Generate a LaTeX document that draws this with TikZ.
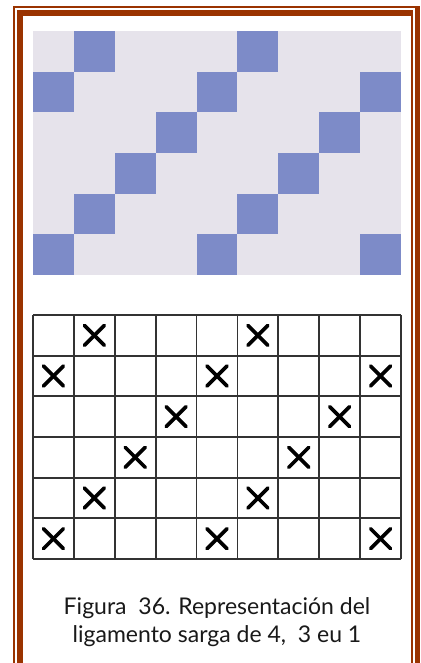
\documentclass[tikz,border=0pt]{standalone}
\usepackage{fontspec}
\setmainfont{Lato}
\usepackage{xcolor}
\definecolor{rimBrown}{HTML}{9A3300}
\definecolor{weaveBg}{HTML}{E6E3EB}
\definecolor{weaveBlue}{HTML}{7D8BC8}

\begin{document}
\begin{tikzpicture}[x=1pt,y=-1pt,
  rim/.style={fill=rimBrown},
  cell/.style={fill=weaveBlue},
  gridline/.style={draw=black!80,line width=1.8pt},
  xmark/.style={draw=black,line width=3.7pt,line cap=round},
  caption/.style={align=center,font=\fontsize{23}{28}\selectfont,text=black!90,inner sep=0pt}]
\useasboundingbox (0,0) rectangle (420,663);
\fill[white] (0,0) rectangle (420,663);
\fill[rim] (13,6) rectangle (420,8);
\fill[rim] (13,6) rectangle (15,663);
\fill[rim] (415,6) rectangle (420,663);
\fill[rim] (17,10) rectangle (413,16);
\fill[rim] (17,10) rectangle (23,663);
\fill[rim] (411,10) rectangle (413,663);
\fill[weaveBg] (33,31) rectangle (401,275);
\foreach \c/\r in {1/0,5/0,0/1,4/1,8/1,3/2,7/2,2/3,6/3,1/4,5/4,0/5,4/5,8/5}{
  \fill[cell] (33+40.89*\c,31+40.67*\r) rectangle +(40.89,40.67);
  \coordinate (x\c\r) at (33+40.89*\c+20.44,315+40.67*\r+20.33);
  \draw[xmark] (x\c\r) ++(-10,-10) -- ++(20,20);
  \draw[xmark] (x\c\r) ++(-10,10) -- ++(20,-20);
}
\foreach \i in {0,...,9}{\draw[gridline] (33+40.89*\i,315) -- (33+40.89*\i,559);}
\foreach \j in {0,...,6}{\draw[gridline] (33,315+40.67*\j) -- (401,315+40.67*\j);}
\node[caption] (cap) at (217,622) {Figura~ 36. Representación del\\ligamento sarga de 4,~ 3 eu 1};
\end{tikzpicture}
\end{document}
